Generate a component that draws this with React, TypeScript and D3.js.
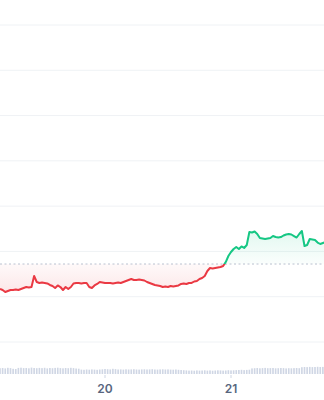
import React from "react";
import * as d3 from "d3";

// time in hours relative to day "20" 00:00, one point every 30 min
const startHour = -20;
const stepHours = 0.5;
const prices = [
  111.70, 111.48, 111.04, 111.26, 111.48, 111.48, 111.59, 111.48, 111.70, 111.92,
  112.14, 112.03, 112.14, 114.57, 113.25, 113.03, 113.14, 113.03, 112.92, 112.59,
  112.36, 111.92, 112.48, 112.14, 111.48, 112.14, 111.70, 112.14, 112.92, 113.03,
  113.03, 112.92, 113.03, 113.03, 112.14, 111.92, 112.48, 112.81, 113.25, 113.14,
  113.03, 113.03, 113.03, 112.92, 113.03, 113.14, 113.03, 113.25, 113.47, 113.69,
  113.91, 113.69, 113.69, 113.80, 113.69, 113.58, 113.25, 113.03, 112.81, 112.59,
  112.48, 112.36, 112.14, 112.25, 112.14, 112.36, 112.25, 112.36, 112.48, 112.81,
  112.92, 112.81, 113.03, 113.03, 113.36, 113.47, 113.91, 114.13, 114.57, 115.68,
  116.34, 116.23, 116.34, 116.45, 116.56, 116.78, 117.66, 118.99, 119.87, 120.53,
  120.98, 120.53, 121.09, 120.76, 121.42, 124.29, 124.18, 124.40, 123.85, 122.96,
  122.85, 122.74, 122.85, 122.96, 123.40, 123.18, 123.07, 123.18, 123.52, 123.74,
  123.85, 123.74, 123.40, 123.07, 123.85, 124.51, 121.20, 121.42, 122.74, 122.63,
  122.52, 121.97, 121.64, 121.86, 122.08,
];
const volumes = [
  5.8, 6.0, 5.6, 6.2, 5.9, 5.2, 5.0, 6.1, 6.3, 5.9, 6.0, 5.7, 6.4, 6.0, 5.8, 6.1,
  5.9, 6.2, 5.6, 6.0, 5.8, 6.1, 6.3, 5.9, 5.7, 6.0, 5.8, 6.2, 5.9, 5.5, 5.3,
  4.4, 4.2, 4.5, 4.3, 4.6, 4.4, 4.2, 4.5, 4.7, 5.0, 4.8, 4.6, 5.2, 4.9, 4.5, 4.6,
  4.4, 4.7, 4.5, 4.6, 4.8, 4.5, 4.4, 4.6, 4.7, 4.5, 4.6, 4.8, 4.5, 4.4, 4.6, 4.7,
  4.5, 4.6, 4.4, 4.3, 4.5, 4.2, 4.0, 3.8,
  3.6, 3.4, 3.5, 3.3, 3.6, 3.4, 3.5, 3.7, 3.4, 3.6, 3.3, 3.5, 3.7, 3.6, 3.4, 3.5,
  3.8, 3.6, 3.7, 3.9, 4.0, 4.2, 3.9, 4.1, 4.3,
  5.6, 5.8, 6.0, 5.7, 5.9, 6.1, 5.8, 5.9, 6.0, 5.7, 5.8, 6.0, 5.9, 5.6, 5.8, 5.7,
  5.9, 6.0, 5.8,
  6.8, 7.0, 6.9, 7.1, 6.9, 7.0, 7.2, 7.0, 7.1, 6.9,
];
const baselinePrice = 117.22;
const gridPrices = [100, 110, 120, 130, 140, 150, 160, 170];
const xTickHours = [0, 24];
const xTickLabels = ["20", "21"];

const W = 324;
const H = 400;
const GREEN = "#16c784";
const RED = "#ea3943";

export default function App() {
  const data = prices.map((p, i) => ({ t: startHour + i * stepHours, p, v: volumes[i] }));
  const x = d3.scaleLinear().domain([-20, 41.714]).range([0, W]);
  const y = d3.scaleLinear().domain([100, 170]).range([342, 25]);
  const yv = d3.scaleLinear().domain([0, 10]).range([374, 364]);
  const by = y(baselinePrice);

  const line = d3.line<any>().x((d) => x(d.t)).y((d) => y(d.p)).curve(d3.curveLinear);
  const area = d3
    .area<any>()
    .x((d) => x(d.t))
    .y0(by)
    .y1((d) => y(d.p));
  const linePath = line(data) || "";
  const areaPath = area(data) || "";
  const barW = (x(stepHours) - x(0)) * 0.62;

  return (
    <div style={{ position: "fixed", left: 0, top: 0, width: W, height: H, background: "#fff" }}>
      <svg width={W} height={H} style={{ display: "block" }}>
        <defs>
          <clipPath id="above">
            <rect x={0} y={0} width={W} height={by} />
          </clipPath>
          <clipPath id="below">
            <rect x={0} y={by} width={W} height={H - by} />
          </clipPath>
          <linearGradient id="gGreen" x1="0" x2="0" y1={y(124.5)} y2={by} gradientUnits="userSpaceOnUse">
            <stop offset="0" stopColor={GREEN} stopOpacity={0.12} />
            <stop offset="1" stopColor={GREEN} stopOpacity={0.02} />
          </linearGradient>
          <linearGradient id="gRed" x1="0" x2="0" y1={by} y2={y(111)} gradientUnits="userSpaceOnUse">
            <stop offset="0" stopColor={RED} stopOpacity={0.03} />
            <stop offset="1" stopColor={RED} stopOpacity={0.12} />
          </linearGradient>
        </defs>
        {gridPrices.map((g) => (
          <line key={g} x1={0} x2={W} y1={y(g)} y2={y(g)} stroke="#eff2f5" strokeWidth={1} />
        ))}
        {data.map((d, i) => (
          <rect
            key={i}
            x={x(d.t) - barW / 2}
            y={yv(d.v)}
            width={barW}
            height={yv(0) - yv(d.v)}
            fill="#cfd6e4"
          />
        ))}
        <path d={areaPath} fill="url(#gGreen)" clipPath="url(#above)" />
        <path d={areaPath} fill="url(#gRed)" clipPath="url(#below)" />
        <line x1={0} x2={W} y1={by} y2={by} stroke="#b9c1cf" strokeWidth={1} strokeDasharray="2,2.5" />
        <path d={linePath} fill="none" stroke={GREEN} strokeWidth={2} strokeLinejoin="round" clipPath="url(#above)" />
        <path d={linePath} fill="none" stroke={RED} strokeWidth={2} strokeLinejoin="round" clipPath="url(#below)" />
        {xTickHours.map((h, i) => (
          <g key={h}>
            <line x1={x(h)} x2={x(h)} y1={375} y2={378} stroke="#cfd6e4" strokeWidth={1} />
            <text
              x={x(h)}
              y={393}
              textAnchor="middle"
              fontFamily="Inter, sans-serif"
              fontWeight={600}
              fontSize={12}
              fill="#58667e"
            >
              {xTickLabels[i]}
            </text>
          </g>
        ))}
      </svg>
    </div>
  );
}
